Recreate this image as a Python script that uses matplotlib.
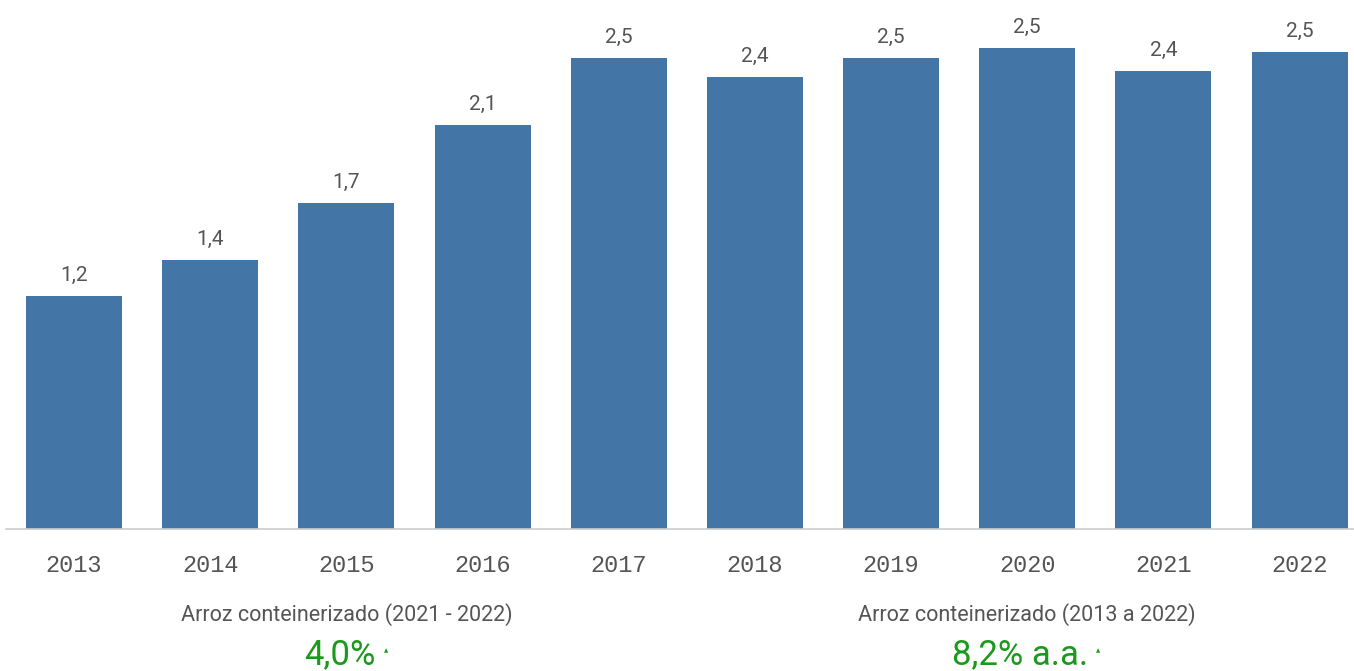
import matplotlib.pyplot as plt

# values (million t)
years = ['2013', '2014', '2015', '2016', '2017', '2018', '2019', '2020', '2021', '2022']
values = [1.22, 1.41, 1.71, 2.12, 2.47, 2.37, 2.47, 2.52, 2.40, 2.50]
growth_titles = ['Arroz conteinerizado (2021 - 2022)', 'Arroz conteinerizado (2013 a 2022)']
growth_values = ['4,0%', '8,2% a.a.']

W, H = 1354, 671
fig = plt.figure(figsize=(W / 100, H / 100), dpi=100)
ax = fig.add_axes([6 / W, 142 / H, 1 - 6 / W, 1 - 142 / H])

x = range(len(years))
bars = ax.bar(x, values, width=0.705, color='#4475a7')

ax.set_xlim(-0.5, 9.4)
ax.set_ylim(0, 2.773)
for s in ['top', 'right', 'left']:
    ax.spines[s].set_visible(False)
ax.spines['bottom'].set_color('#cccccc')
ax.spines['bottom'].set_linewidth(1.2)
ax.set_yticks([])
ax.set_xticks(list(x))
ax.set_xticklabels(years, family='Liberation Mono', fontsize=17, color='#555555')
ax.tick_params(axis='x', length=0, pad=18)

for b, v in zip(bars, values):
    ax.annotate(f'{v:.1f}'.replace('.', ','), (b.get_x() + b.get_width() / 2, v),
                xytext=(0, 8), textcoords='offset points', ha='center', va='bottom',
                family='Roboto', fontsize=15, color='#555555')

# growth summary below the chart
centers = [347, 1027]
for cx, title, val in zip(centers, growth_titles, growth_values):
    fig.text(cx / W, 1 - 615 / H, title, ha='center', va='center',
             family='Roboto', fontsize=15.5, color='#555555')
    t = fig.text((cx - 7) / W, 1 - 655 / H, val, ha='center', va='center',
                 family='Roboto', fontsize=25, color='#1a9a1a')
    fig.canvas.draw()
    bb = t.get_window_extent()
    fig.text((bb.x1 + 10) / W, 1 - 651 / H, '▲', ha='center', va='center',
             family='DejaVu Sans', fontsize=4, color='#1a9a1a')

fig.savefig('out.png', dpi=100)
